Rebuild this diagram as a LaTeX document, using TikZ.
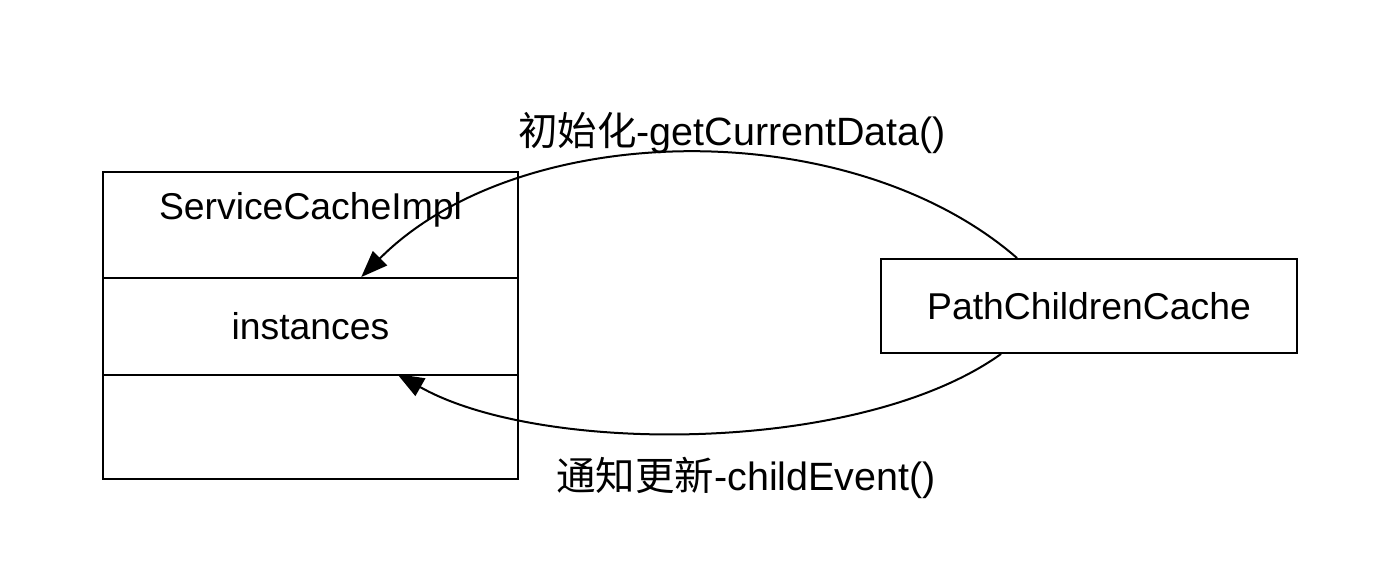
\documentclass[tikz,border=0pt]{standalone}
\usepackage{fontspec}
\setmainfont{Liberation Sans}
\newfontfamily\cjk{Noto Sans CJK SC}
\usetikzlibrary{arrows.meta,calc}
\begin{document}
\begin{tikzpicture}[x=0.75pt,y=-0.75pt,
  box/.style={draw,line width=1.4pt,minimum width=311pt,inner sep=0pt,font=\fontsize{28}{34}\selectfont},
  conn/.style={line width=1.5pt,-{Triangle[length=20pt,width=15pt]}},
  lbl/.style={font=\fontsize{28}{34}\selectfont,inner sep=0pt},
  elbl/.style={font=\fontsize{29.6}{36}\selectfont,inner sep=0pt}]
\useasboundingbox (0,0) rectangle (1388,574);
\node[box,minimum height=79.5pt] (top) at (310.5,225) {};
\node[lbl] at (310.5,210) {ServiceCacheImpl};
\node[box,minimum height=72.75pt] (mid) at (310.5,326.5) {instances};
\node[box,minimum height=78pt] (bot) at (310.5,427) {};
\node[box,minimum width=312pt,minimum height=70.5pt] (pcc) at (1089,306) {PathChildrenCache};
\coordinate (s1) at ($(pcc.north west)+(137,0)$);
\coordinate (e1) at ($(mid.north west)+(259,0)$);
\coordinate (s2) at ($(pcc.south west)+(121,0)$);
\coordinate (e2) at ($(bot.north west)+(295,0)$);
\draw[conn] (s1) .. controls (850,113) and (520,118) .. (e1);
\draw[conn] (s2) .. controls (860,455) and (540,455) .. (e2);
\node[elbl] (l1) at (732,133) {{\cjk 初始化}-getCurrentData()};
\node[elbl] (l2) at (746,478) {{\cjk 通知更新}-childEvent()};
\end{tikzpicture}
\end{document}
